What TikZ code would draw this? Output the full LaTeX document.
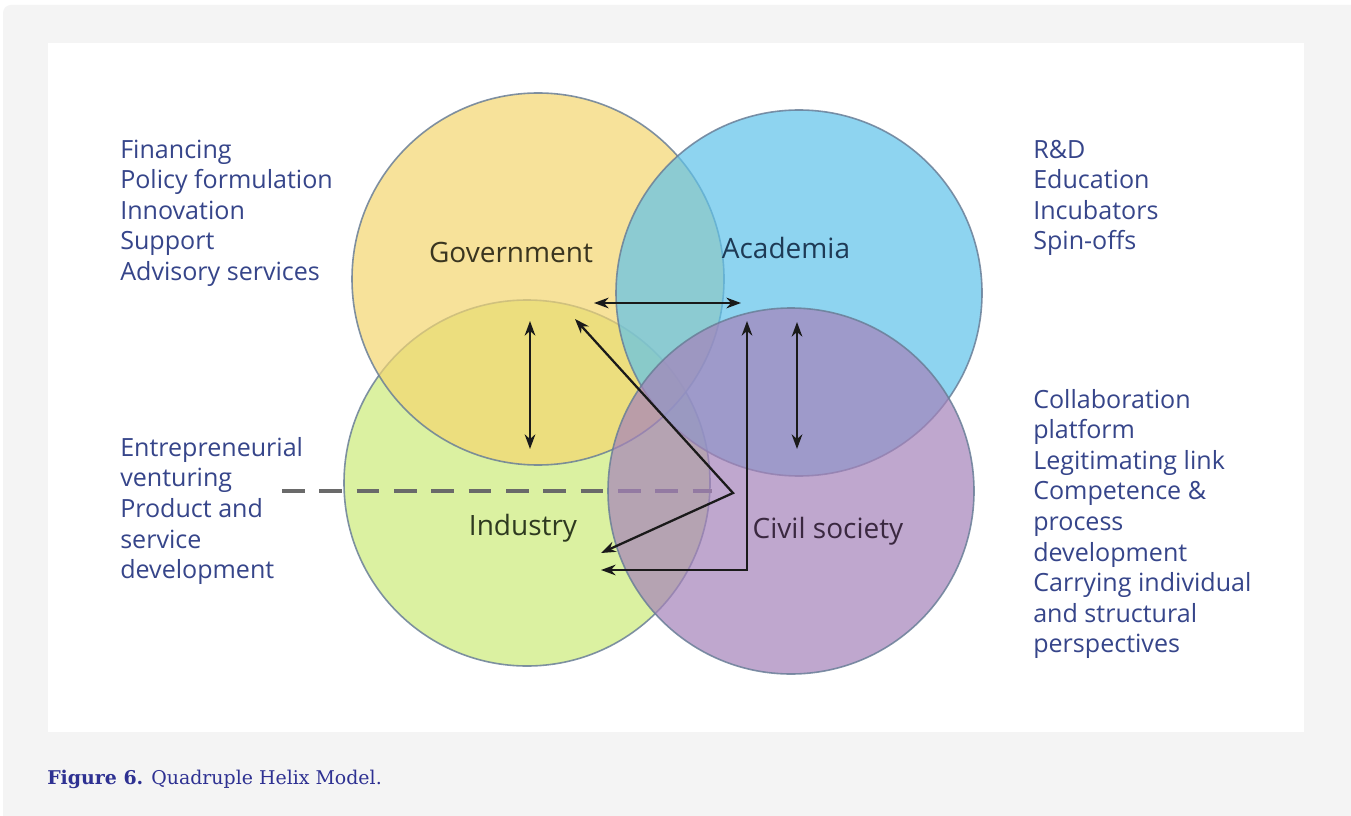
\documentclass[tikz,border=0pt]{standalone}
\usepackage{fontspec}
\setmainfont{Open Sans}
\newfontfamily\capfont{DejaVu Serif}
\usetikzlibrary{arrows.meta}
\definecolor{bggray}{HTML}{F4F4F4}
\definecolor{govC}{RGB}{244,214,112}
\definecolor{acadC}{RGB}{95,194,234}
\definecolor{indC}{RGB}{205,236,122}
\definecolor{civC}{RGB}{165,130,186}
\definecolor{edgeC}{HTML}{6A7F98}
\definecolor{sideT}{HTML}{36458A}
\definecolor{capT}{HTML}{2E3192}
\definecolor{govT}{HTML}{3A3520}
\definecolor{acadT}{HTML}{1E3A55}
\definecolor{indT}{HTML}{2E3A20}
\definecolor{civT}{HTML}{3A2840}
\definecolor{arrC}{HTML}{1A1A1A}
\definecolor{dashC}{HTML}{6A6A6A}
\tikzset{
  circ/.style={circle, draw=edgeC, line width=1.2pt, inner sep=0pt, fill opacity=0.7, draw opacity=0.85},
  side/.style={align=left, anchor=west, text=sideT, inner sep=0pt, font=\fontsize{18.8}{22.9}\selectfont},
  lbl/.style={inner sep=0pt, font=\fontsize{21}{24}\selectfont},
  arr/.style={draw=arrC, line width=1.7pt, {Stealth[length=11pt,width=8pt]}-{Stealth[length=11pt,width=8pt]}},
  dashln/.style={draw=dashC, line width=3.6pt, dash pattern=on 17pt off 11pt}
}
\begin{document}
\begin{tikzpicture}[x=0.75pt,y=-0.75pt]
\useasboundingbox (0,0) rectangle (1351,816);
\clip (0,0) rectangle (1351,816);
\fill[white] (0,0) rectangle (1351,816);
\fill[bggray, rounded corners=6pt] (3,5) rectangle (1380,840);
\fill[white] (48,43) rectangle (1304,732);

% circles
\node[circ, fill=indC, minimum size=274.5pt] (ind) at (527,483) {};
\node[circ, fill=govC, minimum size=279pt] (gov) at (538,279) {};
\node[circ, fill=acadC, minimum size=274.5pt] (acad) at (799,293) {};
\coordinate (d1) at (282,491);
\coordinate (d2) at (712,491);
\draw[dashln] (d1) -- (d2);
\node[circ, fill=civC, minimum size=274.5pt] (civ) at (791,491) {};

% labels
\node[lbl, text=govT] (govl) at (511,253) {Government};
\node[lbl, text=acadT] (acadl) at (786,248) {Academia};
\node[lbl, text=indT] (indl) at (523,528) {Industry};
\node[lbl, text=civT] (civl) at (828,531) {Civil society};

% arrows
\coordinate (h1) at (594,303); \coordinate (h2) at (741,303);
\coordinate (v1a) at (530,321); \coordinate (v1b) at (530,449);
\coordinate (v2a) at (797,322); \coordinate (v2b) at (797,449);
\coordinate (g1) at (575,319); \coordinate (gap) at (733,493); \coordinate (g2) at (601,553);
\coordinate (l1) at (747,321); \coordinate (lc) at (747,570); \coordinate (l2) at (601,570);
\draw[arr] (h1) -- (h2);
\draw[arr] (v1a) -- (v1b);
\draw[arr] (v2a) -- (v2b);
\draw[arr, line join=miter] (g1) -- (gap) -- (g2);
\draw[arr, line join=miter] (l1) -- (lc) -- (l2);

% side texts
\node[side] (t1) at (120,213) {Financing\\Policy formulation\\Innovation\\Support\\Advisory services};
\node[side] (t2) at (1033,198) {R\&D\\Education\\Incubators\\Spin-offs};
\node[side] (t3) at (120,511) {Entrepreneurial\\venturing\\Product and\\service\\development};
\node[side] (t4) at (1033,524) {Collaboration\\platform\\Legitimating link\\Competence \&\\process\\development\\Carrying individual\\and structural\\perspectives};

% caption
\node[anchor=base west, inner sep=0pt, text=capT, font=\capfont\fontsize{14.2}{17}\selectfont] (cap) at (47,784) {\textbf{Figure 6.} Quadruple Helix Model.};
\end{tikzpicture}
\end{document}
